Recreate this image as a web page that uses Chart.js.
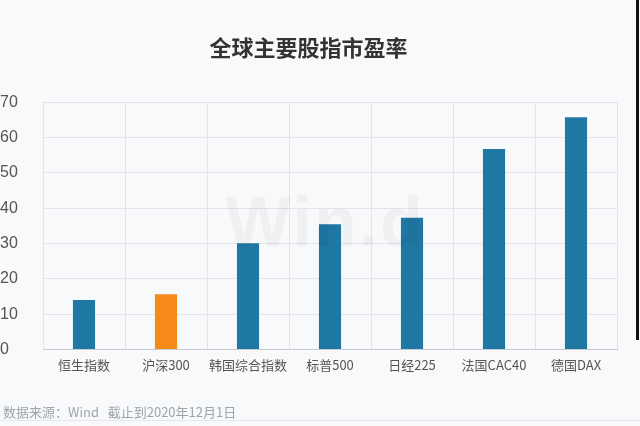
<!DOCTYPE html>
<html><head><meta charset="utf-8">
<script src="https://cdn.jsdelivr.net/npm/chart.js@4"></script>
<style>
html,body{margin:0;padding:0;background:#f8f9fb;}
#wrap{position:relative;width:640px;height:426px;overflow:hidden;}
#src{position:absolute;left:3px;top:402px;font:13px "Noto Sans CJK SC",sans-serif;color:#a0a4aa;}
#bar{position:absolute;left:636px;top:0;width:3px;height:340px;background:#111;}
#line{position:absolute;left:0;top:420px;width:640px;height:1px;background:#e4e6ea;}
#wm{position:absolute;left:225px;top:182px;font:bold 70px "Liberation Sans",sans-serif;color:rgba(0,0,0,0.035);letter-spacing:2px;}
</style></head>
<body><div id="wrap"><canvas id="c" width="640" height="426"></canvas>
<div id="wm">Win.d</div>
<div id="src">数据来源：Wind&nbsp;&nbsp;&nbsp;截止到2020年12月1日</div>
<div id="bar"></div><div id="line"></div></div>
<script>
const categories = ["恒生指数","沪深300","韩国综合指数","标普500","日经225","法国CAC40","德国DAX"];
const peValues = [14.0, 15.6, 30.1, 35.5, 37.3, 56.8, 65.8];
const barColors = ["#1f77a4","#f5891a","#1f77a4","#1f77a4","#1f77a4","#1f77a4","#1f77a4"];
const yTicks = [0,10,20,30,40,50,60,70];
const titleText = "全球主要股指市盈率";
const font = '"Noto Sans CJK SC","Noto Sans",sans-serif';

new Chart(document.getElementById('c'), {
  type: 'bar',
  data: { labels: categories, datasets: [{ data: peValues, backgroundColor: barColors, barPercentage: 0.27, categoryPercentage: 1 }] },
  options: {
    responsive: false, animation: false,
    layout: { padding: { left: 0, right: 23, top: 0, bottom: 45 } },
    plugins: {
      legend: { display: false }, tooltip: { enabled: false },
      title: { display: true, text: titleText, color: '#333', font: { family: font, size: 22, weight: 'bold' }, padding: { top: 34, bottom: 42 } }
    },
    scales: {
      x: {
        grid: { color: '#e3e5e8', offset: true, drawTicks: false },
        border: { color: '#c8cacd' },
        ticks: { color: '#555', font: { family: font, size: 13 }, padding: 8, maxRotation: 0 }
      },
      y: {
        min: 0, max: 70,
        afterBuildTicks: s => { s.ticks = yTicks.map(v => ({ value: v })); },
        afterFit: s => { s.width = 43; },
        grid: { color: '#e3e5e8', drawTicks: false },
        border: { display: false },
        ticks: { color: '#555', font: { family: '"Liberation Sans",Arial,sans-serif', size: 16 }, crossAlign: 'far', padding: 0 }
      }
    }
  }
});
</script></body></html>
